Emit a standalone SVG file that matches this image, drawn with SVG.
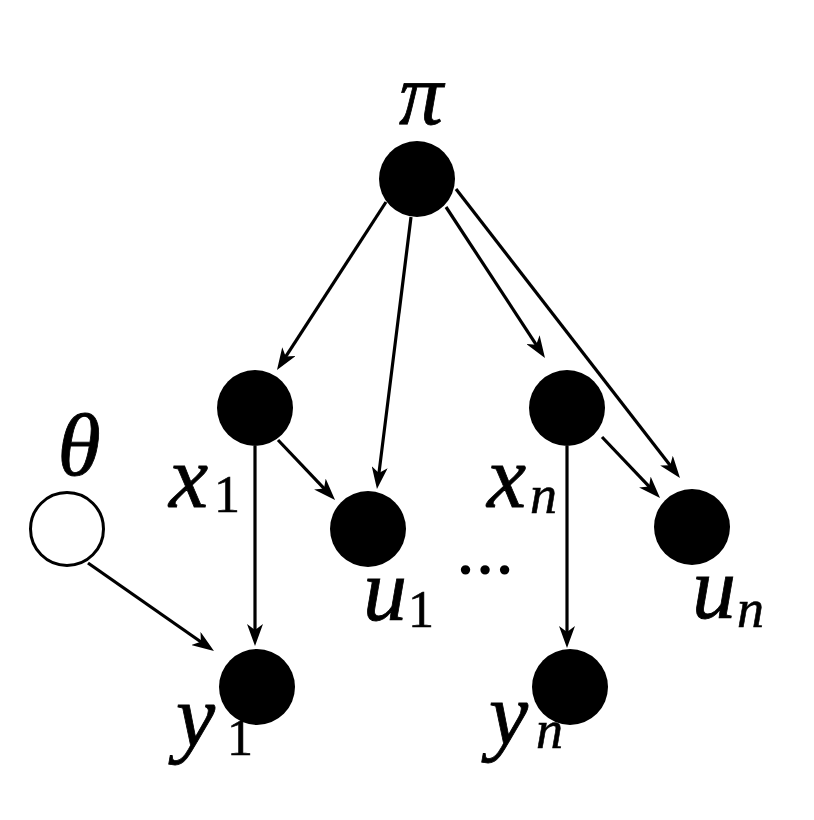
<svg xmlns="http://www.w3.org/2000/svg" width="814" height="820" viewBox="0 0 814 820">
<style>
.n{fill:#000}
.o{fill:#fff;stroke:#000;stroke-width:3}
.e{stroke:#000;stroke-width:3.2;fill:none;marker-end:url(#ah)}
.l{font-family:'Liberation Serif',serif;font-style:italic;font-size:88px;fill:#000;stroke:#000;stroke-width:0.8}
.s{font-family:'Liberation Serif',serif;font-size:52px;fill:#000;stroke:#000;stroke-width:0.6}
.si{font-family:'Liberation Serif',serif;font-style:italic;font-size:54px;fill:#000;stroke:#000;stroke-width:0.6}
</style>
<defs>
<marker id="ah" markerUnits="userSpaceOnUse" markerWidth="22" markerHeight="16" viewBox="0 0 22 16" refX="8" refY="8" orient="auto">
<path d="M0,0 L22,8 L0,16 L6,8 Z" fill="#000"/>
</marker>
</defs>
<rect width="814" height="820" fill="#fff"/>
<g id="connectors">
<line class="e" x1="386" y1="202" x2="284.6" y2="358.3"/>
<line class="e" x1="411" y1="217" x2="378.7" y2="475.1"/>
<line class="e" x1="446" y1="207" x2="537.3" y2="346.3"/>
<line class="e" x1="456" y1="189" x2="671.4" y2="466.9"/>
<line class="e" x1="278" y1="440" x2="325.4" y2="489.9"/>
<line class="e" x1="255" y1="446" x2="255" y2="632"/>
<line class="e" x1="88" y1="563" x2="202.5" y2="643"/>
<line class="e" x1="602" y1="437" x2="650.4" y2="487.9"/>
<line class="e" x1="567" y1="446" x2="567" y2="634"/>
</g>
<g id="node-pi">
<circle class="n" cx="417" cy="179" r="38"/>
<text class="l" x="421" y="124" text-anchor="middle">π</text>
</g>
<g id="node-theta">
<circle class="o" cx="67" cy="529" r="36.5"/>
<text class="l" x="79" y="475" text-anchor="middle">θ</text>
</g>
<g id="node-x1">
<circle class="n" cx="255" cy="408" r="38"/>
<text class="l" x="169" y="507">x</text><text class="s" x="214" y="512">1</text>
</g>
<g id="node-u1">
<circle class="n" cx="368" cy="529" r="38"/>
<text class="l" x="363" y="620">u</text><text class="s" x="408" y="627">1</text>
</g>
<g id="node-xn">
<circle class="n" cx="567" cy="408" r="38"/>
<text class="l" x="487" y="507">x</text><text class="si" x="530" y="513">n</text>
</g>
<g id="node-un">
<circle class="n" cx="692" cy="527" r="38"/>
<text class="l" x="692" y="618">u</text><text class="si" x="737" y="627">n</text>
</g>
<g id="node-y1">
<text class="l" x="176" y="746">y</text><text class="s" x="227" y="755">1</text>
<circle class="n" cx="257" cy="687" r="38"/>
</g>
<g id="node-yn">
<circle class="n" cx="570" cy="687" r="38"/>
<text class="l" x="489" y="744">y</text><text class="si" x="536" y="748">n</text>
</g>
<text font-family="Liberation Serif, serif" font-weight="bold" font-size="58" x="456" y="574">…</text>
</svg>
